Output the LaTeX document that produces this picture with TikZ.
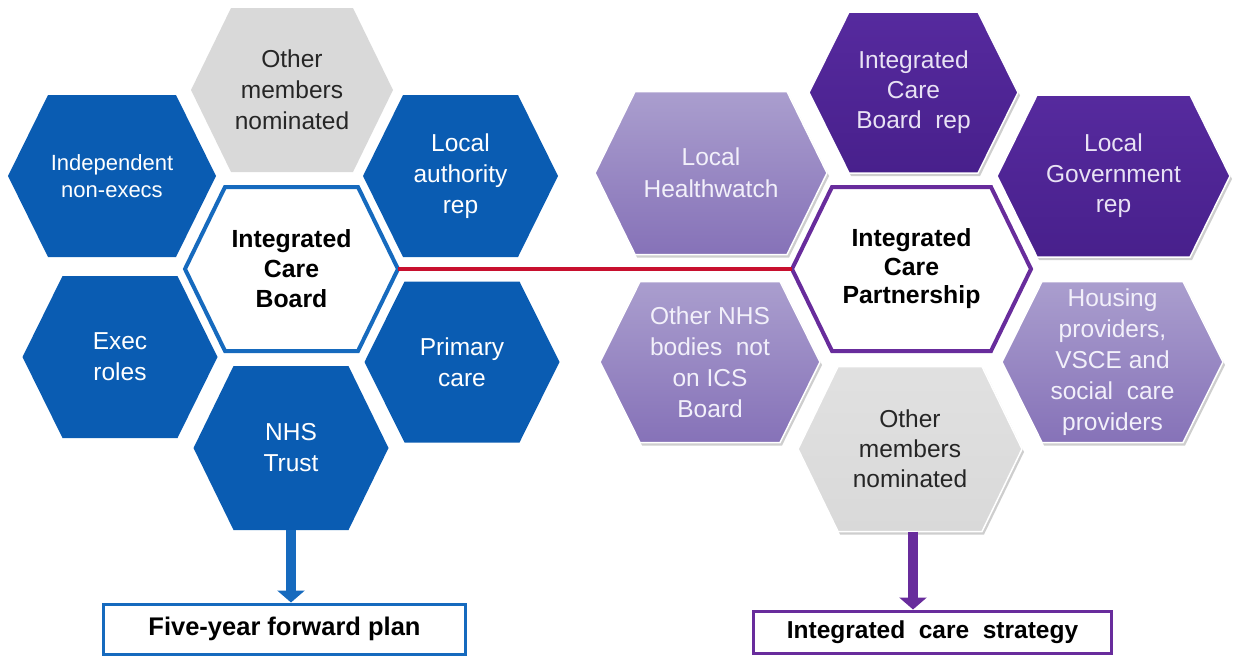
\documentclass[tikz,border=0pt]{standalone}
\usepackage{fontspec}
\setmainfont{Liberation Sans}
\usetikzlibrary{arrows.meta,shadows}
\definecolor{nhsblue}{RGB}{10,92,178}
\definecolor{icbblue}{RGB}{22,106,190}
\definecolor{hexgray}{RGB}{217,217,217}
\definecolor{graytext}{RGB}{38,38,38}
\definecolor{dpurpT}{RGB}{86,42,158}
\definecolor{dpurpB}{RGB}{72,32,140}
\definecolor{lpurpT}{RGB}{170,158,206}
\definecolor{lpurpB}{RGB}{134,114,184}
\definecolor{icppurple}{RGB}{104,44,156}
\definecolor{linkred}{RGB}{200,16,46}
\definecolor{lighttext}{RGB}{242,240,250}
\definecolor{dtext}{RGB}{232,226,244}
\newcommand{\hexagonnode}[8]{%
  \path[#6] ({#2-#4},#3) -- ({#2-#4+40},{#3-#5}) -- ({#2+#4-40},{#3-#5}) -- ({#2+#4},#3) -- ({#2+#4-40},{#3+#5}) -- ({#2-#4+40},{#3+#5}) -- cycle;
  \node[htext,#7] (#1) at (#2,#3) {#8};
  \coordinate (#1-W) at ({#2-#4},#3);
  \coordinate (#1-E) at ({#2+#4},#3);
  \coordinate (#1-S) at (#2,{#3+#5});
}
\begin{document}
\begin{tikzpicture}[x=1pt,y=-1pt,
  bluehex/.style={fill=nhsblue},
  grayhex/.style={fill=hexgray},
  hshadow/.style={drop shadow={shadow xshift=2pt,shadow yshift=-3pt,opacity=.35,fill=black!55}},
  darkhex/.style={hshadow,top color=dpurpT,bottom color=dpurpB,draw=white,line width=1.5pt},
  lighthex/.style={hshadow,top color=lpurpT,bottom color=lpurpB,draw=white,line width=1.5pt},
  grayshex/.style={hshadow,top color=hexgray!80!white,bottom color=hexgray,draw=white,line width=1.5pt},
  icbhex/.style={fill=white,draw=icbblue,line width=4pt,line join=miter},
  icphex/.style={fill=white,draw=icppurple,line width=4pt,line join=miter},
  htext/.style={align=center,inner sep=0pt,font=\fontsize{24.5}{31}\selectfont},
  wtext/.style={text=white},
  gtext/.style={text=graytext},
  ltext/.style={text=lighttext},
  dtextst/.style={text=dtext},
  btext/.style={text=black,font=\fontsize{24.8}{30}\selectfont\bfseries},
  outbox/.style={draw,line width=3pt,fill=white,inner sep=0pt,font=\fontsize{25.5}{30}\selectfont\bfseries},
  bluearrow/.style={draw=icbblue,line width=10pt,-{Triangle[width=27pt,length=12pt]}},
  purplearrow/.style={draw=icppurple,line width=10pt,-{Triangle[width=27pt,length=12pt]}}
]
\useasboundingbox (0,0) rectangle (1233,656);
% left cluster
\hexagonnode{gL}{292}{90}{101}{82}{grayhex}{gtext}{Other\\members\\nominated}
\hexagonnode{ind}{112}{176}{104}{81}{bluehex}{wtext,font=\fontsize{22}{27}\selectfont}{Independent\\non-execs}
\hexagonnode{la}{460.5}{176}{97.5}{81}{bluehex}{wtext}{Local\\authority\\rep}
\hexagonnode{exec}{120}{357}{97.5}{81}{bluehex}{wtext}{Exec\\roles}
\hexagonnode{pc}{462}{362}{97.5}{80.5}{bluehex}{wtext}{Primary\\care}
\hexagonnode{nhs}{291}{448}{97.5}{82}{bluehex}{wtext}{NHS\\Trust}
\hexagonnode{icb}{291.5}{269}{106.5}{82}{icbhex}{btext}{Integrated\\Care\\Board}
% right cluster
\hexagonnode{hw}{711}{173}{116}{81.5}{lighthex}{ltext,font=\fontsize{24.5}{32}\selectfont}{Local\\Healthwatch}
\hexagonnode{icbr}{913.5}{92.5}{104.5}{80.5}{darkhex}{dtextst,font=\fontsize{24.5}{30}\selectfont}{Integrated\\Care\\Board~~rep}
\hexagonnode{lg}{1113.5}{176}{116.5}{81}{darkhex}{dtextst,font=\fontsize{24.5}{30.5}\selectfont}{Local\\Government\\rep}
\hexagonnode{onhs}{710}{362}{110}{80.5}{lighthex}{ltext}{Other~NHS\\bodies~~not\\on~ICS\\Board}
\hexagonnode{gR}{910}{449}{112}{82.5}{grayshex}{gtext,font=\fontsize{24.5}{30}\selectfont}{Other\\members\\nominated}
\hexagonnode{hous}{1112.5}{362}{110.5}{80.5}{lighthex}{ltext}{Housing\\providers,\\VSCE and\\social~~care\\providers}
\hexagonnode{icp}{911.5}{269}{119.5}{82}{icphex}{btext,font=\fontsize{24.8}{28.5}\selectfont\bfseries}{Integrated\\Care\\Partnership}
% link between boards
\draw[linkred,line width=3.5pt] (icb-E) -- (icp-W);
% output boxes
\node[outbox,draw=icbblue,minimum width=362pt,minimum height=50pt] (plan) at (284.5,629) {Five-year forward plan};
\node[outbox,draw=icppurple,minimum width=358pt,minimum height=42pt,font=\fontsize{24.5}{30}\selectfont\bfseries] (strategy) at (932.5,632) {Integrated~~care~~strategy};
% arrows
\draw[bluearrow] (nhs-S) -- (nhs-S |- plan.north);
\draw[purplearrow] ([xshift=3pt]gR-S) -- ([xshift=3pt]gR-S |- strategy.north);
\end{tikzpicture}
\end{document}
